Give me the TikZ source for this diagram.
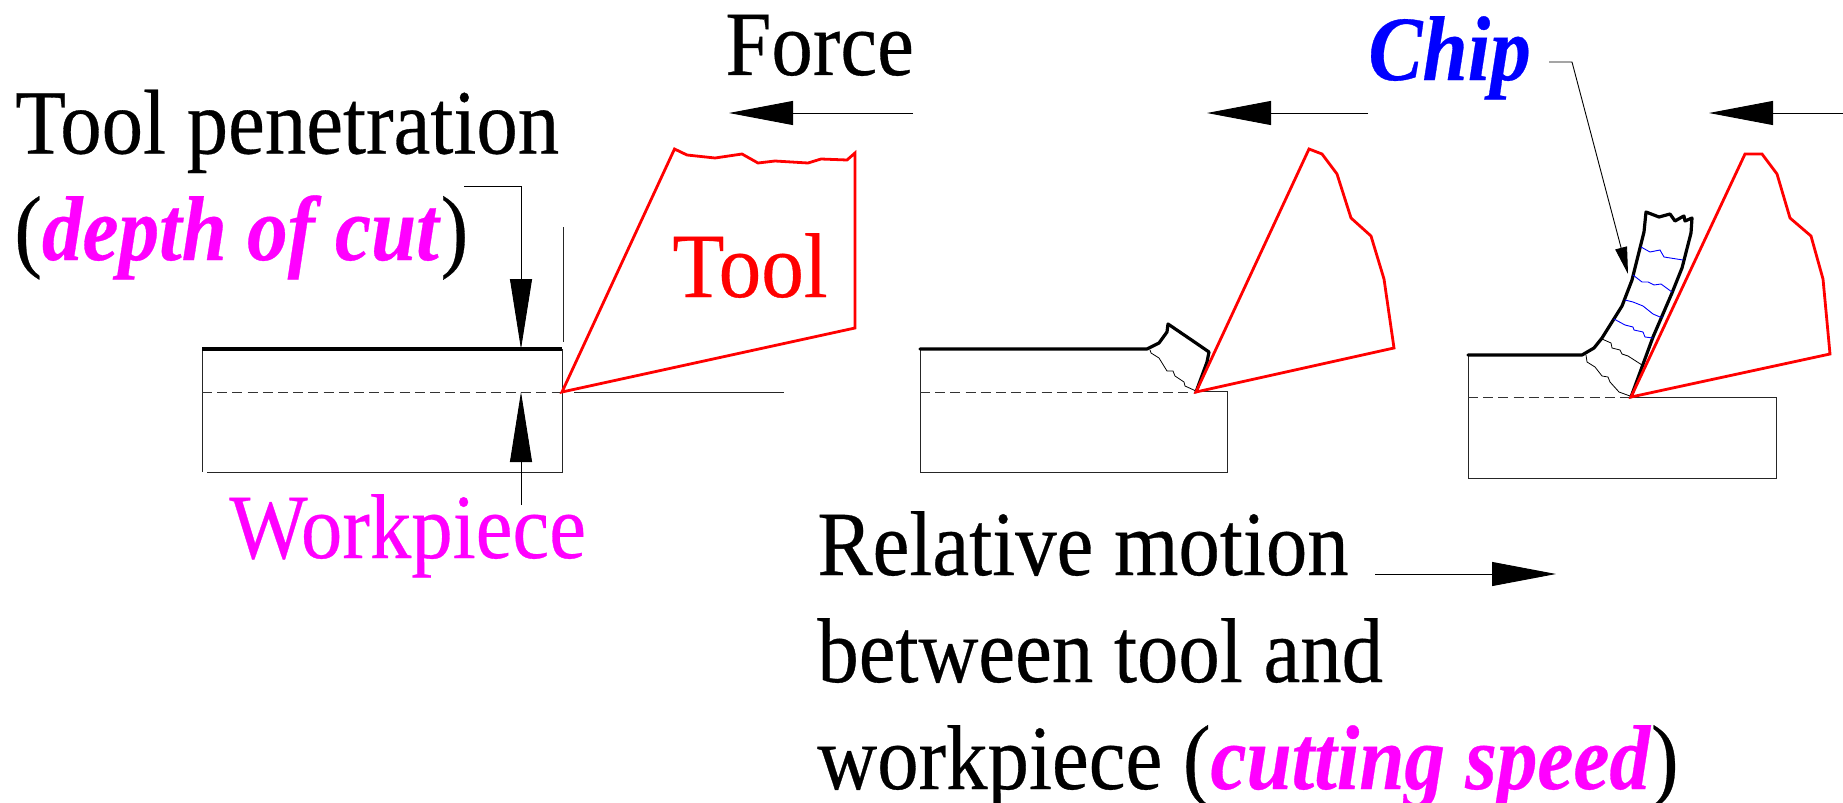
\documentclass[tikz,border=0pt]{standalone}
\usepackage{fontspec}
\setmainfont{Liberation Serif}[FakeBold=0.35,BoldItalicFeatures={FakeBold=0.35,FakeStretch=0.98}]
\usetikzlibrary{arrows.meta}
\definecolor{magentaT}{RGB}{255,0,255}
\tikzset{
  lbl/.style={anchor=base west,inner sep=0pt,font=\fontsize{41.4}{41}\selectfont,yscale=1.11,transform shape},
  thinline/.style={line width=0.45pt,black!85},
  thickline/.style={line width=1.6pt,black,line join=round,line cap=round},
  redline/.style={line width=1.4pt,red,line join=miter},
  wavy/.style={line width=0.4pt,black},
  bluewavy/.style={line width=0.45pt,blue},
  dashline/.style={line width=0.45pt,black!80,dash pattern=on 5pt off 2.6pt},
  bigarrow/.style={line width=0.45pt,black,-{Triangle[length=32pt,width=12pt]}},
  vertarrow/.style={line width=0.45pt,black,-{Triangle[length=35pt,width=11pt]}},
  chiparrow/.style={line width=0.45pt,black,-{Triangle[length=13.5pt,width=6pt]}}
}
\begin{document}
\begin{tikzpicture}[x=0.5pt,y=-0.5pt]
\useasboundingbox (0,0) rectangle (1843,803);

% ---- texts
\node[lbl] (force) at (725,75) {Force};
\node[lbl] (pen) at (15,153.5) {Tool penetration};
\node[lbl] (doc) at (14,260) {(\textcolor{magentaT}{\textbf{\textit{depth of cut}}})};
\node[lbl,text=red,xscale=1.03] (tool) at (672,297) {Tool};
\node[lbl,text=magentaT] (wp) at (229,558) {Workpiece};
\node[lbl] (rel1) at (817,575) {Relative motion};
\node[lbl] (rel2) at (817,682) {between tool and};
\node[lbl] (rel3) at (817,789) {workpiece (\textcolor{magentaT}{\textbf{\textit{cutting speed}}})};
\node[lbl,text=blue] (chip) at (1368,80) {\textbf{\textit{Chip}}};

% ---- coordinates
\coordinate (a1s) at (913,113);   \coordinate (a1e) at (729,113);
\coordinate (a2s) at (1368,113);  \coordinate (a2e) at (1207,113);
\coordinate (a3s) at (1843,113);  \coordinate (a3e) at (1709,113);
\coordinate (rms) at (1375,574);  \coordinate (rme) at (1556,574);
\coordinate (la) at (464,186); \coordinate (lb) at (521,186); \coordinate (lc) at (521,349);
\coordinate (ld) at (521,505); \coordinate (le) at (521,392);
\coordinate (ca) at (1549,62); \coordinate (cb) at (1572,62); \coordinate (cc) at (1628,274);

% ---- figure 1
\draw[thinline] (202,349) -- (202,472) (207,472) -- (562,472) -- (562,349);
\draw[dashline] (202,392) -- (562,392);
\draw[thickline,line cap=butt] (202,349) -- (562,349);
\draw[thinline] (574,392) -- (784,392);
\draw[thinline] (563,227) -- (563,342);
\draw[redline] (562,392) -- (674.5,149) -- (687,155) -- (715,158) -- (742,154) -- (758,163) -- (775,161) -- (808,163) -- (821,159) -- (847,160) -- (855,153) -- (855,328) -- cycle;
\draw[vertarrow] (la) -- (lb) -- (lc);
\draw[vertarrow] (ld) -- (le);
\draw[bigarrow] (a1s) -- (a1e);

% ---- figure 2
\draw[thinline] (920,349) -- (920,472) -- (1227,472) -- (1227,391.5) -- (1196,391.5);
\draw[dashline] (920,392) -- (1196,392);
\draw[thickline] (920,349) -- (1147,349) -- (1159,343) -- (1167,332) -- (1168,324) -- (1193,341) -- (1209,352) -- (1207,362) -- (1196,392);
\draw[wavy] (1150,350) -- (1151,353) -- (1159,358) -- (1167,371) -- (1173,371) -- (1175,376) -- (1184,382) -- (1185,386) -- (1196,391);
\draw[redline] (1196,392) -- (1309,149) -- (1322,154) -- (1337,174) -- (1351,218) -- (1371,236) -- (1384,279) -- (1394,348) -- cycle;
\draw[bigarrow] (a2s) -- (a2e);

% ---- figure 3
\draw[thinline] (1468,355) -- (1468,478) -- (1776,478) -- (1776,397) -- (1631,397);
\draw[dashline] (1468,397) -- (1631,397);
\draw[thickline] (1468,355) -- (1582,355) -- (1594,348) -- (1602,338) -- (1622,306) -- (1632,280) -- (1644,232) -- (1646,212) -- (1659,217) -- (1670,214) -- (1675,221) -- (1682,217) -- (1684,216) -- (1685,221) -- (1692,218) -- (1691,233) -- (1682,268) -- (1672,293) -- (1653,337) -- (1631,397);
\draw[wavy] (1586,355) -- (1587,362) -- (1595,367) -- (1602,376) -- (1608,377) -- (1610,382) -- (1619,392) -- (1630,396);
\draw[wavy] (1602,339) -- (1611,343) -- (1612,348) -- (1620,350) -- (1622,354) -- (1628,356) -- (1642,365);
\draw[bluewavy] (1641,247) -- (1650,252) -- (1660,250) -- (1664,257) -- (1683,260);
\draw[bluewavy] (1633,275) -- (1642,282) -- (1648,282) -- (1654,285) -- (1661,284) -- (1672,292);
\draw[bluewavy] (1625,300) -- (1633,302) -- (1643,306) -- (1653,314) -- (1660,317) -- (1663,317);
\draw[bluewavy] (1614,319) -- (1625,325) -- (1633,327) -- (1634,330) -- (1643,332) -- (1645,337) -- (1653,338);
\draw[redline] (1631,397) -- (1745,154) -- (1762,154) -- (1777,174) -- (1790,218) -- (1811,236) -- (1823,279) -- (1830,354) -- cycle;
\draw[bigarrow] (a3s) -- (a3e);
\draw[chiparrow] (ca) -- (cb) -- (cc);

% ---- relative motion arrow
\draw[bigarrow] (rms) -- (rme);
\end{tikzpicture}
\end{document}
